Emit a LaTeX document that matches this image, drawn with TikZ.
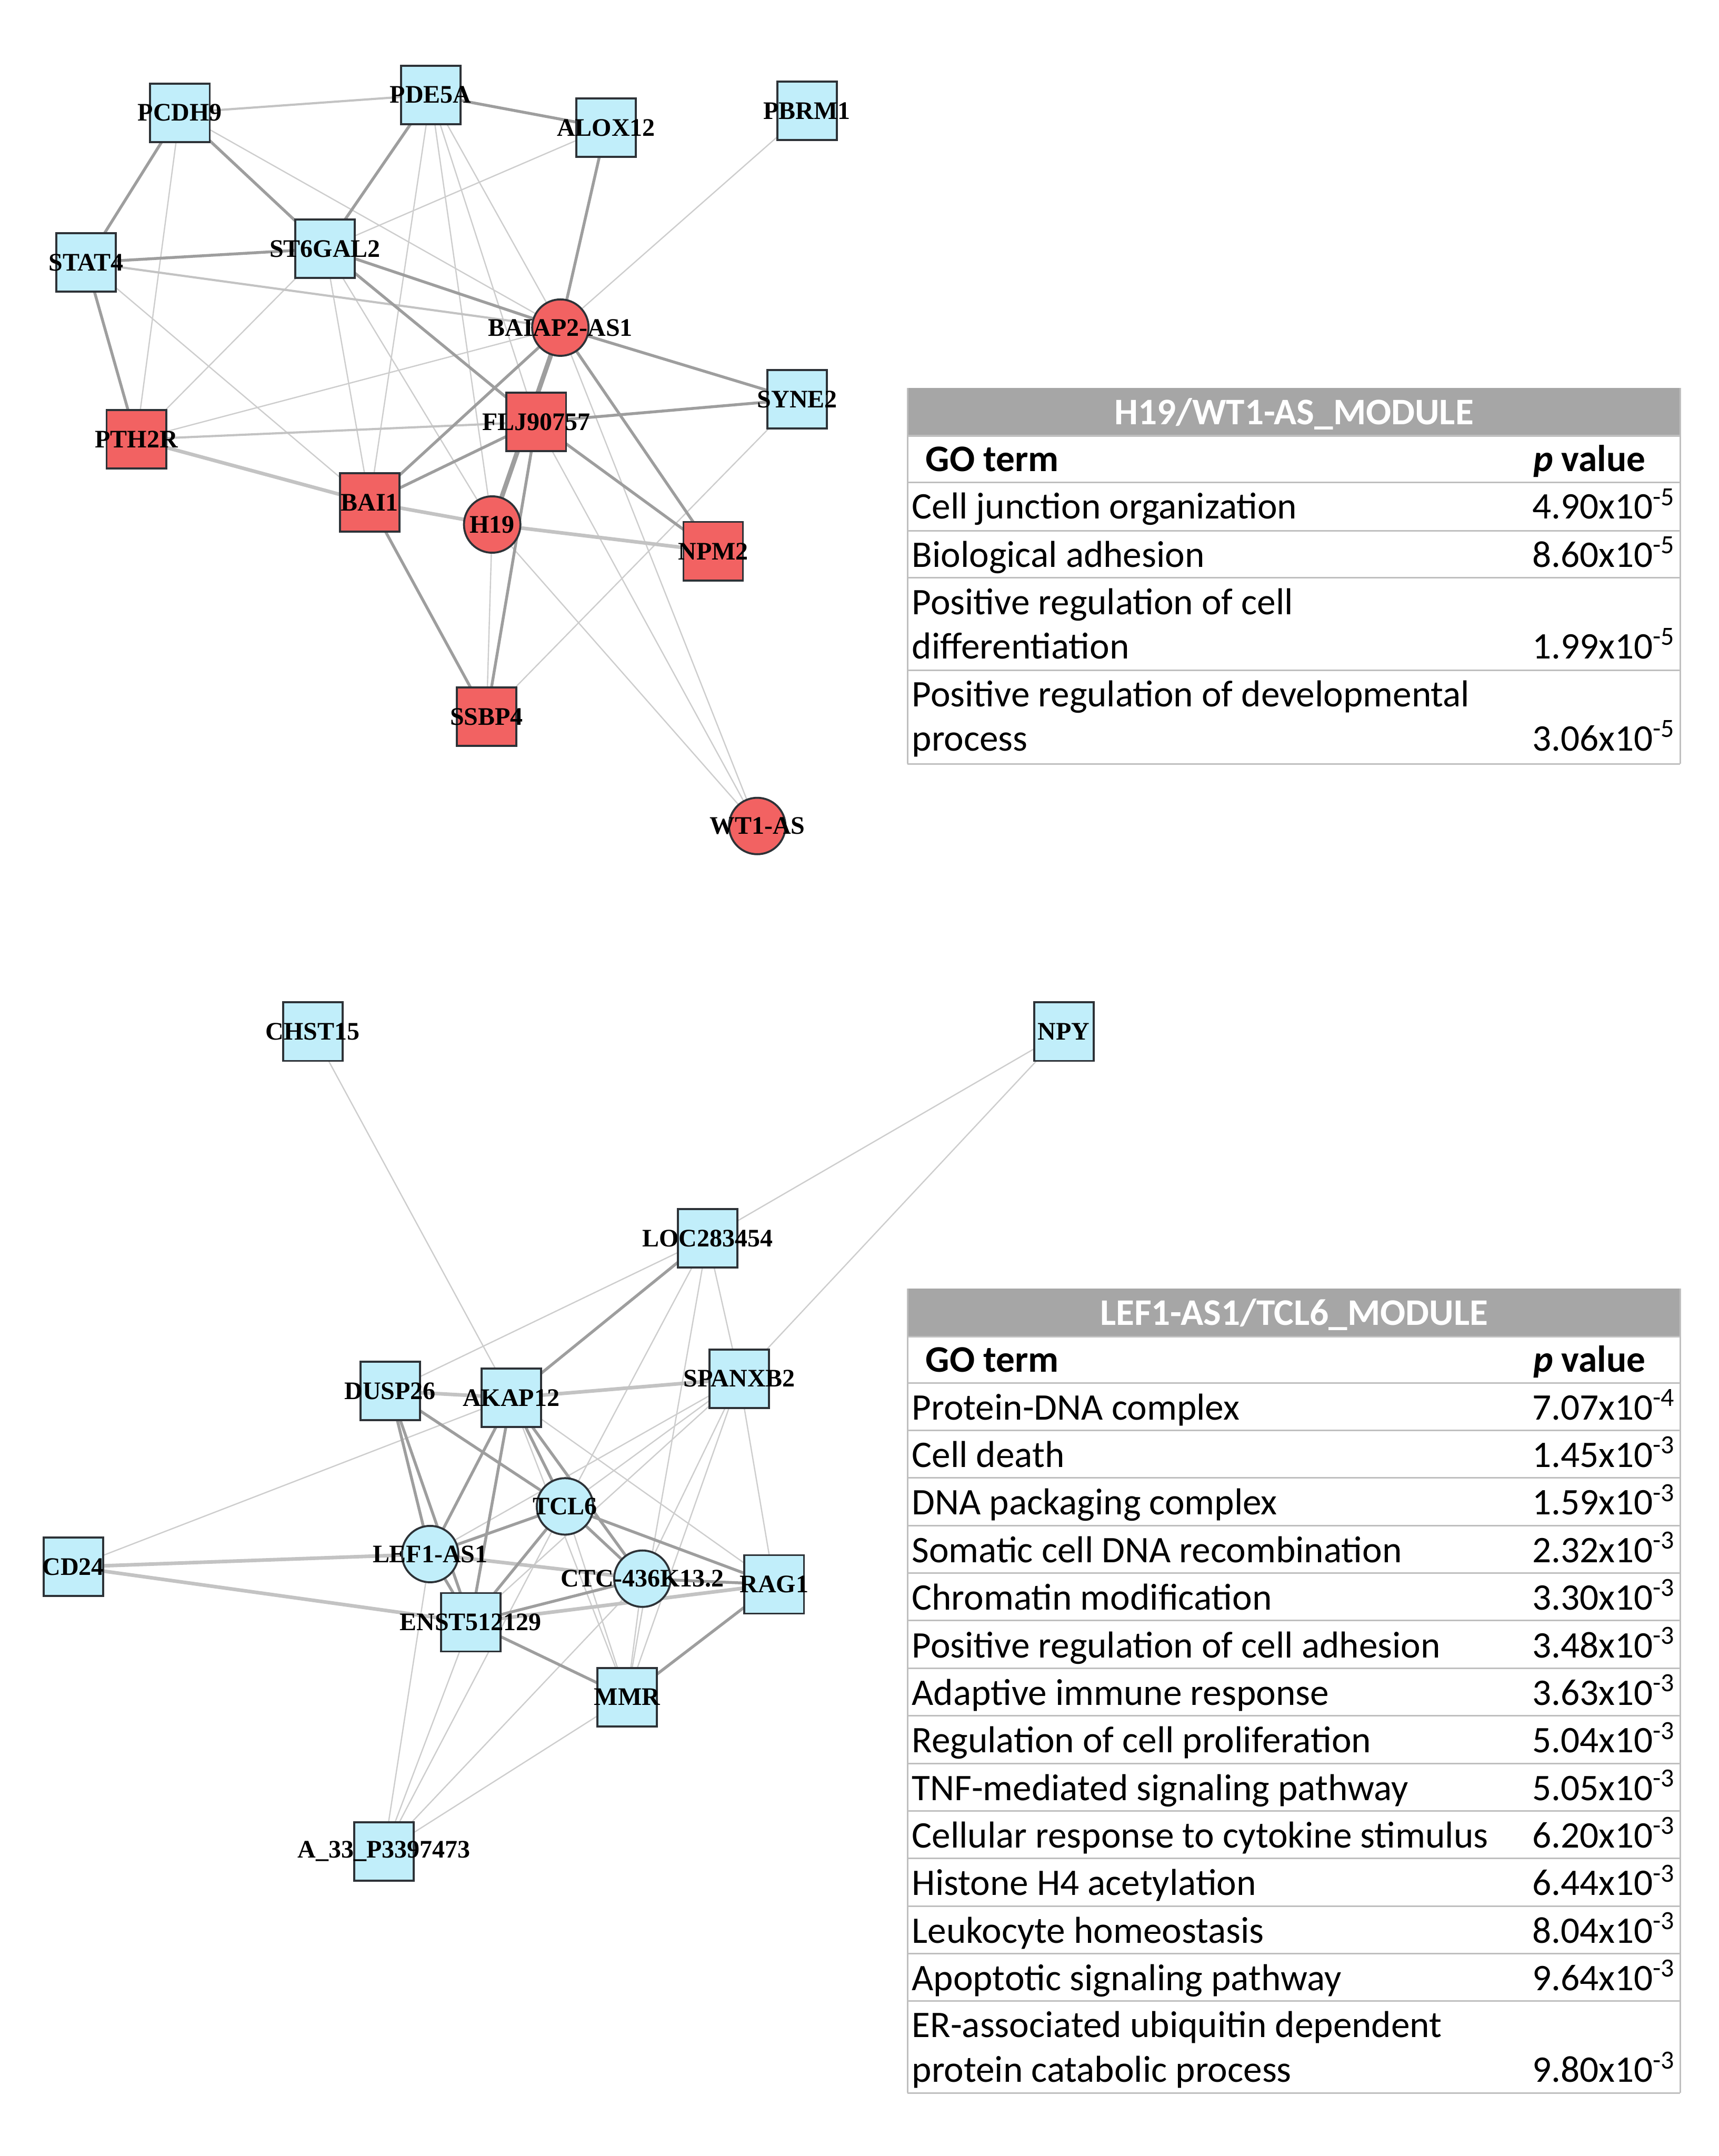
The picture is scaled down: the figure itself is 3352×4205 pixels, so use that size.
\documentclass[tikz,border=0pt]{standalone}
\usepackage{fontspec}
\setmainfont{Liberation Serif}
\newfontfamily\calib{Carlito}
\usetikzlibrary{backgrounds}
\definecolor{nblue}{RGB}{193,238,250}
\definecolor{nred}{RGB}{242,98,98}
\definecolor{nedge}{RGB}{45,50,55}
\definecolor{edark}{RGB}{158,158,158}
\definecolor{elight}{RGB}{195,195,195}
\definecolor{ethin}{RGB}{205,205,205}
\definecolor{hdrgray}{RGB}{166,166,166}
\definecolor{tline}{RGB}{191,191,191}
\newcommand\lbl[1]{\makebox[0pt][c]{#1}}
\newcommand\tsup[1]{\textsuperscript{#1}}
\tikzset{
  gene/.style={draw=nedge, line width=1.1pt, minimum width=1.16cm, minimum height=1.14cm, inner sep=0pt,
    font=\bfseries\fontsize{14pt}{14pt}\selectfont},
  lnc/.style={draw=nedge, line width=1.1pt, circle, minimum size=1.1cm, inner sep=0pt,
    font=\bfseries\fontsize{14pt}{14pt}\selectfont},
  bl/.style={fill=nblue},
  rd/.style={fill=nred},
  ek/.style={draw=edark, line width=1.6pt},
  ekk/.style={draw=edark, line width=2.6pt},
  el/.style={draw=elight, line width=2.0pt},
  em/.style={draw=elight, line width=1.2pt},
  et/.style={draw=ethin, line width=0.7pt},
  ttext/.style={anchor=base west, inner sep=0pt, font=\calib\fontsize{20.8pt}{20.8pt}\selectfont},
  tbold/.style={anchor=base west, inner sep=0pt, font=\calib\bfseries\fontsize{20.8pt}{20.8pt}\selectfont},
  tval/.style={anchor=base west, inner sep=0pt, font=\calib\fontsize{20.8pt}{20.8pt}\selectfont},
  thead/.style={anchor=base, inner sep=0pt, text=white, font=\calib\bfseries\fontsize{20.8pt}{20.8pt}\selectfont},
  tline/.style={draw=tline, line width=0.9pt}
}
\begin{document}
\begin{tikzpicture}[x=0.01cm,y=-0.01cm]
\useasboundingbox (0,0) rectangle (3352,4205);
% ---------------- top network nodes
\node[gene,bl] (pcdh9) at (351,220) {\lbl{PCDH9}};
\node[gene,bl] (pde5a) at (840,185) {\lbl{PDE5A}};
\node[gene,bl] (alox12) at (1182,249) {\lbl{ALOX12}};
\node[gene,bl] (pbrm1) at (1574,216) {\lbl{PBRM1}};
\node[gene,bl] (stat4) at (168,512) {\lbl{STAT4}};
\node[gene,bl] (st6gal2) at (634,485) {\lbl{ST6GAL2}};
\node[lnc,rd] (baiap2) at (1093,639) {\lbl{BAIAP2-AS1}};
\node[gene,bl] (syne2) at (1555,779) {\lbl{SYNE2}};
\node[gene,rd] (flj) at (1046,823) {\lbl{FLJ90757}};
\node[gene,rd] (pth2r) at (266,857) {\lbl{PTH2R}};
\node[gene,rd] (bai1) at (721,980) {\lbl{BAI1}};
\node[lnc,rd] (h19) at (960,1023) {\lbl{H19}};
\node[gene,rd] (npm2) at (1391,1075) {\lbl{NPM2}};
\node[gene,rd] (ssbp4) at (949,1398) {\lbl{SSBP4}};
\node[lnc,rd] (wt1as) at (1477,1611) {\lbl{WT1-AS}};
% ---------------- bottom network nodes
\node[gene,bl] (chst15) at (610,2012) {\lbl{CHST15}};
\node[gene,bl] (npy) at (2075,2012) {\lbl{NPY}};
\node[gene,bl] (loc) at (1380,2415) {\lbl{LOC283454}};
\node[gene,bl] (dusp26) at (761,2713) {\lbl{DUSP26}};
\node[gene,bl] (akap12) at (997,2726) {\lbl{AKAP12}};
\node[gene,bl] (spanxb2) at (1442,2689) {\lbl{SPANXB2}};
\node[lnc,bl] (tcl6) at (1102,2938) {\lbl{TCL6}};
\node[lnc,bl] (lef1) at (839,3031) {\lbl{LEF1-AS1}};
\node[lnc,bl] (ctc) at (1253,3079) {\lbl{CTC-436K13.2}};
\node[gene,bl] (rag1) at (1510,3090) {\lbl{RAG1}};
\node[gene,bl] (enst) at (918,3164) {\lbl{ENST512129}};
\node[gene,bl] (mmr) at (1223,3310) {\lbl{MMR}};
\node[gene,bl] (cd24) at (143,3056) {\lbl{CD24}};
\node[gene,bl] (a33) at (749,3611) {\lbl{A\_33\_P3397473}};
% ---------------- edges
\begin{pgfonlayer}{background}
\fill[white] (0,0) rectangle (3352,4205);
% top thin
\foreach \a/\b in {pcdh9/pth2r, pcdh9/baiap2, stat4/bai1, st6gal2/alox12, st6gal2/pth2r, st6gal2/bai1,
  st6gal2/h19, pde5a/bai1, pde5a/h19, pde5a/flj, pde5a/baiap2, pbrm1/baiap2, baiap2/pth2r,
  syne2/ssbp4, h19/ssbp4, h19/wt1as, flj/wt1as, baiap2/wt1as}
  \draw[et] (\a.center) -- (\b.center);
\foreach \a/\b in {stat4/baiap2, flj/pth2r, pcdh9/pde5a}
  \draw[em] (\a.center) -- (\b.center);
\foreach \a/\b in {bai1/h19, h19/npm2, pth2r/bai1}
  \draw[el] (\a.center) -- (\b.center);
\foreach \a/\b in {pde5a/alox12, pcdh9/stat4, pcdh9/st6gal2, stat4/pth2r, st6gal2/pde5a, st6gal2/baiap2,
  st6gal2/flj, alox12/baiap2, baiap2/syne2, baiap2/bai1, baiap2/npm2, flj/bai1, flj/npm2, flj/ssbp4,
  bai1/ssbp4, stat4/st6gal2, flj/syne2}
  \draw[ek] (\a.center) -- (\b.center);
\draw[ekk] (baiap2.center) -- (h19.center);
% bottom thin
\foreach \a/\b in {chst15/akap12, npy/loc, npy/spanxb2, loc/dusp26, loc/tcl6, loc/mmr, loc/spanxb2,
  cd24/akap12, akap12/rag1, akap12/mmr, spanxb2/lef1, spanxb2/tcl6, spanxb2/enst, spanxb2/ctc,
  spanxb2/mmr, spanxb2/rag1, tcl6/mmr, ctc/mmr, a33/lef1, a33/enst, a33/tcl6, a33/ctc, a33/mmr}
  \draw[et] (\a.center) -- (\b.center);
\foreach \a/\b in {dusp26/akap12, akap12/spanxb2, lef1/ctc, cd24/lef1, cd24/enst, enst/rag1}
  \draw[el] (\a.center) -- (\b.center);
\foreach \a/\b in {loc/akap12, dusp26/lef1, dusp26/enst, dusp26/tcl6, akap12/lef1, akap12/enst,
  akap12/tcl6, akap12/ctc, tcl6/lef1, tcl6/enst, tcl6/ctc, tcl6/rag1, lef1/enst, enst/ctc, enst/mmr,
  rag1/mmr, ctc/rag1}
  \draw[ek] (\a.center) -- (\b.center);
\end{pgfonlayer}
% ---------------- top table
\fill[hdrgray] (1770,757) rectangle (3277,850);
\node[thead] (t1h) at (2524,828) {H19/WT1-AS\_MODULE};
\foreach \y in {850,941,1035,1127,1307,1490}
  \draw[tline] (1770,\y) -- (3277,\y);
\draw[tline] (1770,757) -- (1770,1490);
\draw[tline] (3277,757) -- (3277,1490);
\node[tbold] (t1go) at (1805,919) {GO term};
\node[tbold] (t1p) at (2990,919) {\textit{p} value};
\node[ttext] (t1a) at (1778,1012) {Cell junction organization};
\node[tval] (t1av) at (2988,1012) {4.90x10\tsup{-5}};
\node[ttext] (t1b) at (1778,1106) {Biological adhesion};
\node[tval] (t1bv) at (2988,1106) {8.60x10\tsup{-5}};
\node[ttext] (t1c) at (1778,1199) {Positive regulation of cell};
\node[ttext] (t1c2) at (1778,1285) {differentiation};
\node[tval] (t1cv) at (2988,1285) {1.99x10\tsup{-5}};
\node[ttext] (t1d) at (1778,1378) {Positive regulation of developmental};
\node[ttext] (t1d2) at (1778,1464) {process};
\node[tval] (t1dv) at (2988,1464) {3.06x10\tsup{-5}};
% ---------------- bottom table
\fill[hdrgray] (1770,2513) rectangle (3277,2607);
\node[thead] (t2h) at (2524,2584) {LEF1-AS1/TCL6\_MODULE};
\draw[tline] (1770,2607) -- (3277,2607);
\draw[tline] (1770,2697) -- (3277,2697);
\draw[tline] (1770,2513) -- (1770,4082);
\draw[tline] (3277,2513) -- (3277,4082);
\draw[tline] (1770,4082) -- (3277,4082);
\node[tbold] (t2go) at (1805,2676) {GO term};
\node[tbold] (t2p) at (2990,2676) {\textit{p} value};
\foreach \t/\v [count=\i from 0] in {Protein-DNA complex/{7.07x10\tsup{-4}},
  Cell death/{1.45x10\tsup{-3}},
  DNA packaging complex/{1.59x10\tsup{-3}},
  Somatic cell DNA recombination/{2.32x10\tsup{-3}},
  Chromatin modification/{3.30x10\tsup{-3}},
  Positive regulation of cell adhesion/{3.48x10\tsup{-3}},
  Adaptive immune response/{3.63x10\tsup{-3}},
  Regulation of cell proliferation/{5.04x10\tsup{-3}},
  TNF-mediated signaling pathway/{5.05x10\tsup{-3}},
  Cellular response to cytokine stimulus/{6.20x10\tsup{-3}},
  Histone H4 acetylation/{6.44x10\tsup{-3}},
  Leukocyte homeostasis/{8.04x10\tsup{-3}},
  Apoptotic signaling pathway/{9.64x10\tsup{-3}}}{
  \pgfmathsetmacro\yt{2697+92.77*(\i+1)}
  \pgfmathsetmacro\yb{2697+92.77*\i+72}
  \draw[tline] (1770,\yt) -- (3277,\yt);
  \node[ttext] (r\i) at (1778,\yb) {\t};
  \node[tval] (v\i) at (2988,\yb) {\v};
}
\node[ttext] (r13) at (1778,3973) {ER-associated ubiquitin dependent};
\node[ttext] (r13b) at (1778,4061) {protein catabolic process};
\node[tval] (v13) at (2988,4061) {9.80x10\tsup{-3}};
\end{tikzpicture}
\end{document}
